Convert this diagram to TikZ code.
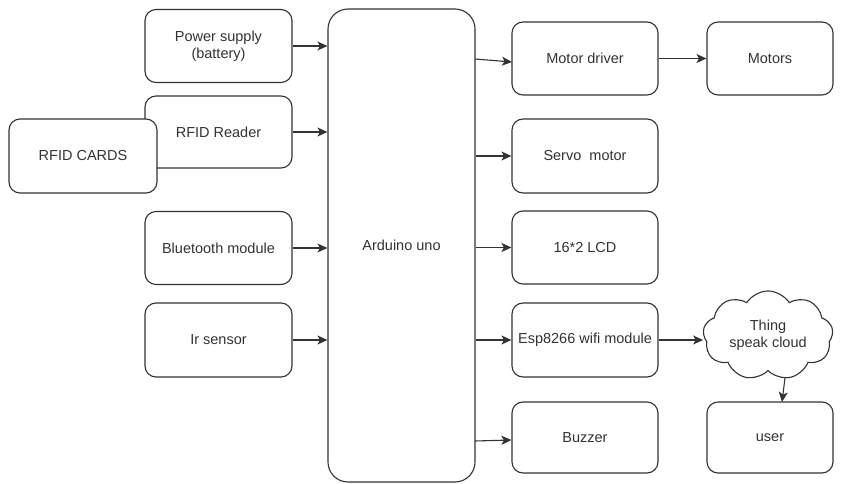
\documentclass[tikz,border=0pt]{standalone}
\usepackage{fontspec}
\setmainfont{Liberation Sans}
\usetikzlibrary{shapes.symbols,arrows.meta}
\definecolor{ln}{HTML}{333333}

\begin{document}
\begin{tikzpicture}[x=1pt,y=-1pt,
		blk/.style={
			draw=ln,
			line width=1.1pt,
			rounded corners=11pt,
			fill=white,
			minimum width=147pt,
			minimum height=73pt,
			align=center,
			inner sep=0pt,
			text=ln,
			font=\fontsize{14.5}{17}\selectfont,
		},
		arr/.style={draw=ln, line width=1.1pt, -{Stealth[length=10pt,width=9pt,inset=2.5pt]}}]
		\useasboundingbox (0,0) rectangle (844,484);
		\def\xl{218.5}; \def\xr{585}; \def\xf{770};

		% inputs
		\node[blk] (ps) at (\xl,46) {Power supply\\(battery)};
		\node[blk, minimum height=72pt] (rfid) at (\xl,132) {RFID Reader};
		\node[blk, minimum width=148pt, minimum height=74pt] (cards) at (83,156) {RFID CARDS};
		\node[blk] (bt) at (\xl,248) {Bluetooth module};
		\node[blk, minimum height=74pt] (ir) at (\xl,340) {Ir sensor};

		% controller
		\node[blk, rounded corners=20pt, minimum height=473pt] (ard) at (401.5,245.5) {Arduino uno};

		% outputs
		\node[blk, minimum width=146pt] (md) at (\xr,58.5) {Motor driver};
		\node[blk, minimum width=146pt, minimum height=74pt] (servo) at (\xr,156) {Servo~~motor};
		\node[blk, minimum width=146pt] (lcd) at (\xr,247.5) {16*2 LCD};
		\node[blk, minimum width=146pt, minimum height=74pt] (esp) at (\xr,340) {Esp8266 wifi module};
		\node[blk, minimum width=146pt, minimum height=71pt] (buzz) at (\xr,437.5) {Buzzer};

		\node[blk, minimum width=126pt] (motors) at (\xf,58.5) {Motors};
		\node[blk, rounded corners=0pt, cloud, cloud puffs=9, cloud puff arc=115, aspect=1.5,
			minimum width=130pt, minimum height=88pt] (cloud) at (768,335.5) {Thing\\speak cloud};
		\node[blk, minimum width=126pt, minimum height=71pt] (user) at (\xf,437.5) {user};

		% free ends on the controller
		\coordinate (a1) at (475,59);
		\coordinate (b1) at (512,62);
		\coordinate (a5) at (475,441);
		\coordinate (c1) at (785,378);
		\coordinate (u1) at (782,402);

		\draw[arr] (ps.east) -- (ps.east -| ard.west);
		\draw[arr] (rfid.east) -- (rfid.east -| ard.west);
		\draw[arr] (bt.east) -- (bt.east -| ard.west);
		\draw[arr] (ir.east) -- (ir.east -| ard.west);

		\draw[arr] (a1) -- (b1);
		\draw[arr] (servo.west -| ard.east) -- (servo.west);
		\draw[arr] (lcd.west -| ard.east) -- (lcd.west);
		\draw[arr] (esp.west -| ard.east) -- (esp.west);
		\draw[arr] (a5) -- (buzz.west |- 0,440);

		\draw[arr] (md.east) -- (motors.west);
		\draw[arr] (esp.east) -- (esp.east -| cloud.west);
		\draw[arr] (c1) -- (u1);

\end{tikzpicture}
\end{document}
